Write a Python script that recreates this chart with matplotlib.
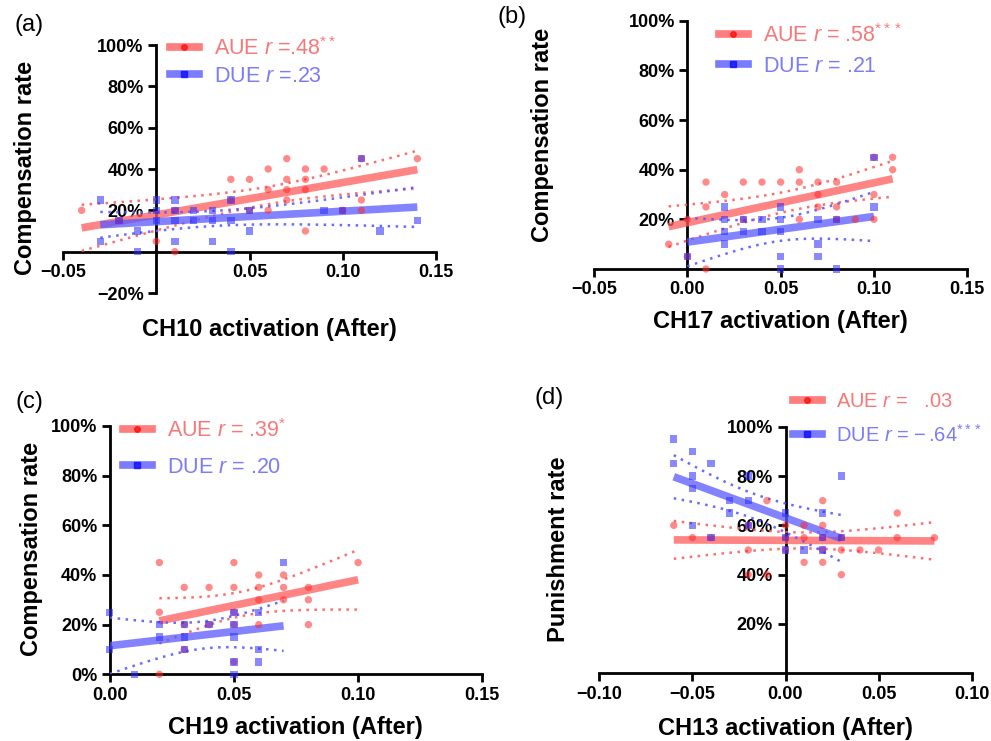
import numpy as np
import matplotlib
matplotlib.use('Agg')
import matplotlib.pyplot as plt
from matplotlib.lines import Line2D

plt.rcParams['font.family'] = ['Liberation Sans', 'DejaVu Sans']
plt.rcParams['mathtext.fontset'] = 'custom'
plt.rcParams['mathtext.rm'] = 'Liberation Sans'
plt.rcParams['mathtext.it'] = 'Liberation Sans:italic'
plt.rcParams['mathtext.bf'] = 'Liberation Sans:bold'

# ---------------- data (activation, rate in %) ----------------
a_aue_x = [-0.04, -0.02, 0.00, 0.01, 0.01, 0.04, 0.04, 0.05, 0.05, 0.06, 0.06, 0.06, 0.07, 0.07, 0.07,
           0.07, 0.08, 0.08, 0.08, 0.08, 0.09, 0.10, 0.11, 0.11, 0.11, 0.14]
a_aue_y = [20, 15, 5, 0, 20, 35, 25, 35, 20, 40, 30, 20, 45, 35, 30, 25, 40, 35, 30, 10, 40, 20, 45, 25, 20, 45]
a_due_x = [-0.03, -0.03, -0.02, -0.01, -0.01, 0.00, 0.00, 0.00, 0.01, 0.01, 0.01, 0.01, 0.02, 0.02, 0.03,
           0.03, 0.03, 0.04, 0.04, 0.04, 0.05, 0.05, 0.09, 0.10, 0.11, 0.12, 0.14]
a_due_y = [25, 5, 15, 10, 0, 25, 20, 15, 25, 20, 15, 5, 20, 15, 20, 15, 5, 25, 15, 0, 10, 20, 20, 20, 45, 10, 15]

b_aue_x = [-0.01, 0.00, 0.00, 0.01, 0.01, 0.01, 0.02, 0.03, 0.03, 0.04, 0.05, 0.06, 0.06, 0.06, 0.07, 0.07,
           0.07, 0.08, 0.08, 0.08, 0.09, 0.10, 0.10, 0.10, 0.11, 0.11]
b_aue_y = [10, 20, 5, 35, 25, 0, 30, 35, 20, 35, 35, 40, 35, 20, 35, 30, 25, 35, 25, 20, 20, 45, 30, 20, 45, 40]
b_due_x = [0.00, 0.02, 0.02, 0.02, 0.02, 0.03, 0.03, 0.04, 0.04, 0.05, 0.05, 0.05, 0.05, 0.05, 0.07, 0.07,
           0.07, 0.08, 0.08, 0.10, 0.10]
b_due_y = [5, 25, 20, 15, 10, 20, 15, 20, 15, 25, 20, 15, 5, 0, 20, 10, 5, 20, 0, 25, 45]

c_aue_x = [0.02, 0.02, 0.02, 0.03, 0.03, 0.03, 0.04, 0.04, 0.05, 0.05, 0.05, 0.05, 0.05, 0.06, 0.06, 0.06,
           0.06, 0.07, 0.07, 0.07, 0.08, 0.08, 0.08, 0.10]
c_aue_y = [45, 25, 0, 35, 20, 10, 35, 20, 45, 35, 25, 20, 5, 40, 35, 30, 20, 40, 35, 30, 35, 30, 20, 45]
c_due_x = [0.00, 0.00, 0.01, 0.02, 0.02, 0.03, 0.03, 0.03, 0.04, 0.05, 0.05, 0.05, 0.05, 0.05, 0.06, 0.06,
           0.06, 0.07]
c_due_y = [25, 10, 0, 20, 15, 20, 15, 10, 20, 25, 20, 15, 5, 0, 25, 10, 5, 45]

d_aue_x = [-0.06, -0.05, -0.04, -0.02, -0.02, -0.02, -0.01, -0.01, 0.00, 0.00, 0.00, 0.01, 0.01, 0.01, 0.02,
           0.02, 0.02, 0.02, 0.02, 0.03, 0.03, 0.03, 0.04, 0.05, 0.06, 0.06, 0.08]
d_aue_y = [60, 55, 55, 50, 60, 40, 70, 40, 60, 55, 50, 60, 55, 45, 70, 60, 55, 50, 45, 55, 50, 40, 50, 50,
           65, 55, 55]
d_due_x = [-0.06, -0.06, -0.05, -0.05, -0.05, -0.05, -0.04, -0.04, -0.03, -0.03, -0.02, -0.02, -0.02, 0.00,
           0.00, 0.00, 0.01, 0.02, 0.02, 0.02, 0.03, 0.03]
d_due_y = [95, 85, 90, 80, 75, 60, 85, 55, 70, 65, 80, 70, 60, 65, 55, 50, 50, 65, 55, 50, 80, 55]

# labels / ticks
panel_tags = ['(a)', '(b)', '(c)', '(d)']
x_titles = ['CH10 activation (After)', 'CH17 activation (After)',
            'CH19 activation (After)', 'CH13 activation (After)']
y_titles = ['Compensation rate', 'Compensation rate', 'Compensation rate', 'Punishment rate']
aue_labels = [r'AUE $r$ =.48$^{**}$', r'AUE $r$ = .58$^{***}$', r'AUE $r$ = .39$^{*}$', r'AUE $r$ =   .03']
due_labels = [r'DUE $r$ =.23', r'DUE $r$ = .21', r'DUE $r$ = .20', r'DUE $r$ = $-\,$.64$^{***}$']

a_xticks = [-0.05, 0.05, 0.10, 0.15]
a_xticklabels = ['\u22120.05', '0.05', '0.10', '0.15']
a_yticks = [-20, 20, 40, 60, 80, 100]
a_yticklabels = ['\u221220%', '20%', '40%', '60%', '80%', '100%']
b_xticks = [-0.05, 0.00, 0.05, 0.10, 0.15]
b_xticklabels = ['\u22120.05', '0.00', '0.05', '0.10', '0.15']
b_yticks = [20, 40, 60, 80, 100]
b_yticklabels = ['20%', '40%', '60%', '80%', '100%']
c_xticks = [0.00, 0.05, 0.10, 0.15]
c_xticklabels = ['0.00', '0.05', '0.10', '0.15']
c_yticks = [0, 20, 40, 60, 80, 100]
c_yticklabels = ['0%', '20%', '40%', '60%', '80%', '100%']
d_xticks = [-0.10, -0.05, 0.00, 0.05, 0.10]
d_xticklabels = ['\u22120.10', '\u22120.05', '0.00', '0.05', '0.10']
d_yticks = [20, 40, 60, 80, 100]
d_yticklabels = ['20%', '40%', '60%', '80%', '100%']

# ---------------- helpers ----------------
def tcrit(df, z=1.959964):
    return (z + (z**3 + z) / (4 * df) + (5 * z**5 + 16 * z**3 + 3 * z) / (96 * df**2)
            + (3 * z**7 + 19 * z**5 + 17 * z**3 - 15 * z) / (384 * df**3))


def fit_band(x, y, npts=80):
    x = np.asarray(x, float)
    y = np.asarray(y, float)
    n = len(x)
    b, a = np.polyfit(x, y, 1)
    xs = np.linspace(x.min(), x.max(), npts)
    yhat = a + b * xs
    s = np.sqrt(np.sum((y - (a + b * x)) ** 2) / (n - 2))
    sxx = np.sum((x - x.mean()) ** 2)
    se = s * np.sqrt(1.0 / n + (xs - x.mean()) ** 2 / sxx)
    t = tcrit(n - 2)
    return xs, yhat, yhat - t * se, yhat + t * se


RED_PT = '#FF2A2A'
RED_LN = '#FF5C5C'
BLUE_PT = '#2A2AFF'
BLUE_LN = '#5A5AFF'
RED_TXT = '#F87878'
BLUE_TXT = '#7C7CF6'

W, H = 991, 741
fig = plt.figure(figsize=(W / 100, H / 100), dpi=100)

# axes boxes in pixels: left, right, top, bottom
boxes = [(63, 436, 45, 293), (594, 967.3, 20.7, 269), (109.7, 482.3, 426, 674.3), (599.3, 971.7, 426.7, 673.3)]
xlims = [(-0.05, 0.15), (-0.05, 0.15), (0.0, 0.15), (-0.10, 0.10)]
ylims = [(-20, 100), (0, 100), (0, 100), (0, 100)]
xt = [(a_xticks, a_xticklabels), (b_xticks, b_xticklabels), (c_xticks, c_xticklabels), (d_xticks, d_xticklabels)]
yt = [(a_yticks, a_yticklabels), (b_yticks, b_yticklabels), (c_yticks, c_yticklabels), (d_yticks, d_yticklabels)]
series = [(a_aue_x, a_aue_y, a_due_x, a_due_y), (b_aue_x, b_aue_y, b_due_x, b_due_y),
          (c_aue_x, c_aue_y, c_due_x, c_due_y), (d_aue_x, d_aue_y, d_due_x, d_due_y)]
xlabel_pos = [(0.552, -0.149), (0.498, -0.213), (0.497, -0.216), (0.499, -0.222)]
ylabel_pos = [(-0.100, 0.504), (-0.137, 0.540), (-0.210, 0.505), (-0.110, 0.504)]
tag_pos = [(29, 25), (512, 17), (29, 402), (549, 398)]
leg_anchor = [(170, 37), (719, 24), (123, 419), (793, 392)]
leg_space = [0.27, 0.40, 0.68, 0.62]
leg_size = [15.5, 15.5, 15.5, 14.5]

for i in range(4):
    l, r, t, b = boxes[i]
    ax = fig.add_axes([l / W, 1 - b / H, (r - l) / W, (b - t) / H])
    ax.set_xlim(*xlims[i])
    ax.set_ylim(*ylims[i])
    for side in ('top', 'right'):
        ax.spines[side].set_visible(False)
    ax.spines['left'].set_position(('data', 0))
    ax.spines['bottom'].set_position(('data', 0))
    for side in ('left', 'bottom'):
        ax.spines[side].set_linewidth(2)
        ax.spines[side].set_zorder(2)
    ax.tick_params(direction='out', length=6, width=2, labelsize=13, pad=3)
    ax.set_xticks(xt[i][0], xt[i][1], fontweight='bold')
    ax.set_yticks(yt[i][0], yt[i][1], fontweight='bold')

    ax_, ay_, dx_, dy_ = series[i]
    for x, y, cp, cl, mk in ((ax_, ay_, RED_PT, RED_LN, 'o'), (dx_, dy_, BLUE_PT, BLUE_LN, 's')):
        xs, yhat, lo, hi = fit_band(x, y)
        for band in (lo, hi):
            ax.plot(xs, band, color=cl, lw=1.8, ls=(0, (1, 2.2)), alpha=0.9, zorder=3)
        ax.plot(xs, yhat, color=cl, lw=5.5, alpha=0.75, solid_capstyle='butt', zorder=3)
        ax.scatter(x, y, s=28, marker=mk, color=cp, alpha=0.55, edgecolors='none', zorder=4, clip_on=False)

    ax.set_xlabel(x_titles[i], fontsize=17, fontweight='bold')
    ax.xaxis.set_label_coords(*xlabel_pos[i])
    ax.xaxis.label.set_verticalalignment('center')
    ax.set_ylabel(y_titles[i], fontsize=17, fontweight='bold')
    ax.yaxis.set_label_coords(*ylabel_pos[i])
    ax.yaxis.label.set_verticalalignment('center')

    handles = [Line2D([], [], color=RED_LN, lw=5.5, alpha=0.8, marker='o', markersize=4,
                      markerfacecolor='#FF1010', markeredgecolor='#FF1010'),
               Line2D([], [], color=BLUE_LN, lw=5.5, alpha=0.8, marker='s', markersize=4,
                      markerfacecolor='#1010FF', markeredgecolor='#1010FF')]
    lx, ly = leg_anchor[i]
    ax.legend(handles, [aue_labels[i], due_labels[i]], loc='upper left',
              bbox_to_anchor=(lx / W, 1 - ly / H), bbox_transform=fig.transFigure,
              frameon=False, fontsize=leg_size[i], handlelength=1.9 * 15.5 / leg_size[i] * 0.7,
              handletextpad=0.7, borderpad=0, borderaxespad=0, labelspacing=leg_space[i],
              labelcolor=[RED_TXT, BLUE_TXT])

    fig.text(tag_pos[i][0] / W, 1 - tag_pos[i][1] / H, panel_tags[i], fontsize=17,
             ha='center', va='center')

fig.savefig('out.png', dpi=100)
